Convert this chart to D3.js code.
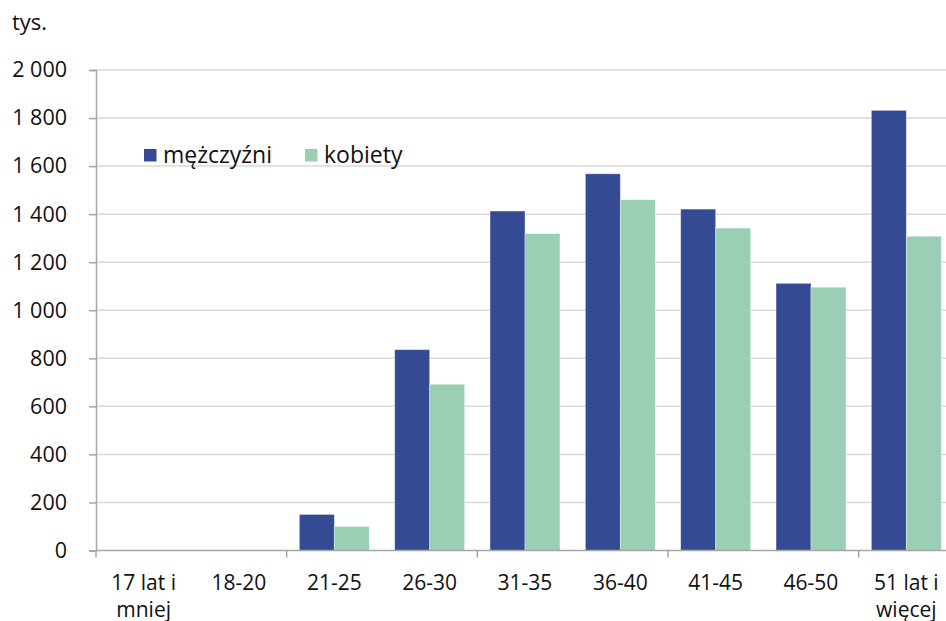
<!DOCTYPE html>
<html>
<head>
<meta charset="utf-8">
<script src="https://cdn.jsdelivr.net/npm/d3@7"></script>
<style>
  body { margin: 0; background: #fff; }
  text { font-family: "Open Sans", sans-serif; fill: #111; }
</style>
</head>
<body>
<div id="chart"></div>
<script>
// age groups (each label may wrap onto two lines)
var categories = [["17 lat i", "mniej"], ["18-20"], ["21-25"], ["26-30"], ["31-35"],
                  ["36-40"], ["41-45"], ["46-50"], ["51 lat i", "więcej"]];
var seriesNames = ["mężczyźni", "kobiety"];
var men   = [0, 0, 150, 836, 1413, 1568, 1421, 1112, 1832];
var women = [0, 0, 100, 692, 1319, 1460, 1342, 1096, 1308];
var yTicks = [0, 200, 400, 600, 800, 1000, 1200, 1400, 1600, 1800, 2000];
var unitLabel = "tys.";

var colors = d3.scaleOrdinal().domain(seriesNames).range(["#344a93", "#9acfb5"]);

var width = 946, height = 621;
var plotLeft = 96, plotRight = 954, plotTop = 70, plotBottom = 550.5;

var svg = d3.select("#chart").append("svg")
  .attr("width", width)
  .attr("height", height);

var keys = categories.map(function(c) { return c.join(" "); });
var data = keys.map(function(k, i) {
  return { key: k, lines: categories[i], values: [men[i], women[i]] };
});

var x0 = d3.scaleBand().domain(keys).range([plotLeft, plotRight]);
var step = x0.step();
var x1 = d3.scaleBand().domain(seriesNames).range([12.7, step - 12.7]);
var y = d3.scaleLinear().domain([0, 2000]).range([plotBottom, plotTop]);

// gridlines
svg.append("g").selectAll("line")
  .data(yTicks.filter(function(d) { return d > 0; }))
  .enter().append("line")
    .attr("x1", plotLeft).attr("x2", width)
    .attr("y1", function(d) { return y(d); })
    .attr("y2", function(d) { return y(d); })
    .attr("stroke", "#d9d9d9")
    .attr("stroke-width", 1.5);

// bars
var groups = svg.append("g").selectAll("g")
  .data(data)
  .enter().append("g")
    .attr("transform", function(d) { return "translate(" + x0(d.key) + ",0)"; });

groups.selectAll("rect")
  .data(function(d) { return d.values.map(function(v, j) { return { name: seriesNames[j], value: v }; }); })
  .enter().append("rect")
    .attr("x", function(d) { return x1(d.name); })
    .attr("width", x1.bandwidth())
    .attr("y", function(d) { return y(d.value); })
    .attr("height", function(d) { return y(0) - y(d.value); })
    .attr("fill", function(d) { return colors(d.name); })
    .attr("stroke", "#ffffff")
    .attr("stroke-opacity", 0.45)
    .attr("stroke-width", 0.8);

// y axis
var yAxis = svg.append("g")
  .attr("transform", "translate(" + plotLeft + ",0)")
  .call(d3.axisLeft(y).tickValues(yTicks).tickSize(7).tickPadding(22)
    .tickFormat(function(d) { return d3.format(",")(d).replace(",", " "); }));
yAxis.select(".domain").attr("stroke", "#a6a6a6").attr("stroke-width", 1.5);
yAxis.selectAll(".tick line").attr("stroke", "#a6a6a6").attr("stroke-width", 1.5);
yAxis.selectAll(".tick text")
  .attr("font-size", 21.5)
  .attr("font-family", "Open Sans, sans-serif")
  .attr("fill", "#111");

// x axis line with a tick every second category
svg.append("line")
  .attr("x1", plotLeft).attr("x2", width)
  .attr("y1", plotBottom).attr("y2", plotBottom)
  .attr("stroke", "#a6a6a6").attr("stroke-width", 1.5);

svg.append("g").selectAll("line")
  .data(keys.filter(function(d, i) { return i % 2 === 0; }))
  .enter().append("line")
    .attr("x1", function(d) { return x0(d); })
    .attr("x2", function(d) { return x0(d); })
    .attr("y1", plotBottom).attr("y2", plotBottom + 7)
    .attr("stroke", "#a6a6a6").attr("stroke-width", 1.5);

// category labels
var labels = svg.append("g").selectAll("text")
  .data(data)
  .enter().append("text")
    .attr("text-anchor", "middle")
    .attr("font-size", 21)
    .attr("y", 590);

labels.selectAll("tspan")
  .data(function(d) { return d.lines.map(function(l) { return { line: l, x: x0(d.key) + step / 2 }; }); })
  .enter().append("tspan")
    .attr("x", function(d) { return d.x; })
    .attr("dy", function(d, i) { return i === 0 ? 0 : 26.5; })
    .text(function(d) { return d.line; });

// unit label
svg.append("text")
  .attr("x", 12).attr("y", 30)
  .attr("font-size", 22)
  .text(unitLabel);

// legend
var legendX = [144, 305];
var legend = svg.append("g").selectAll("g")
  .data(seriesNames)
  .enter().append("g")
    .attr("transform", function(d, i) { return "translate(" + legendX[i] + ",149)"; });

legend.append("rect")
  .attr("width", 12.5).attr("height", 12.5)
  .attr("fill", function(d) { return colors(d); });

legend.append("text")
  .attr("x", 19).attr("y", 14)
  .attr("font-size", 23)
  .text(function(d) { return d; });
</script>
</body>
</html>
